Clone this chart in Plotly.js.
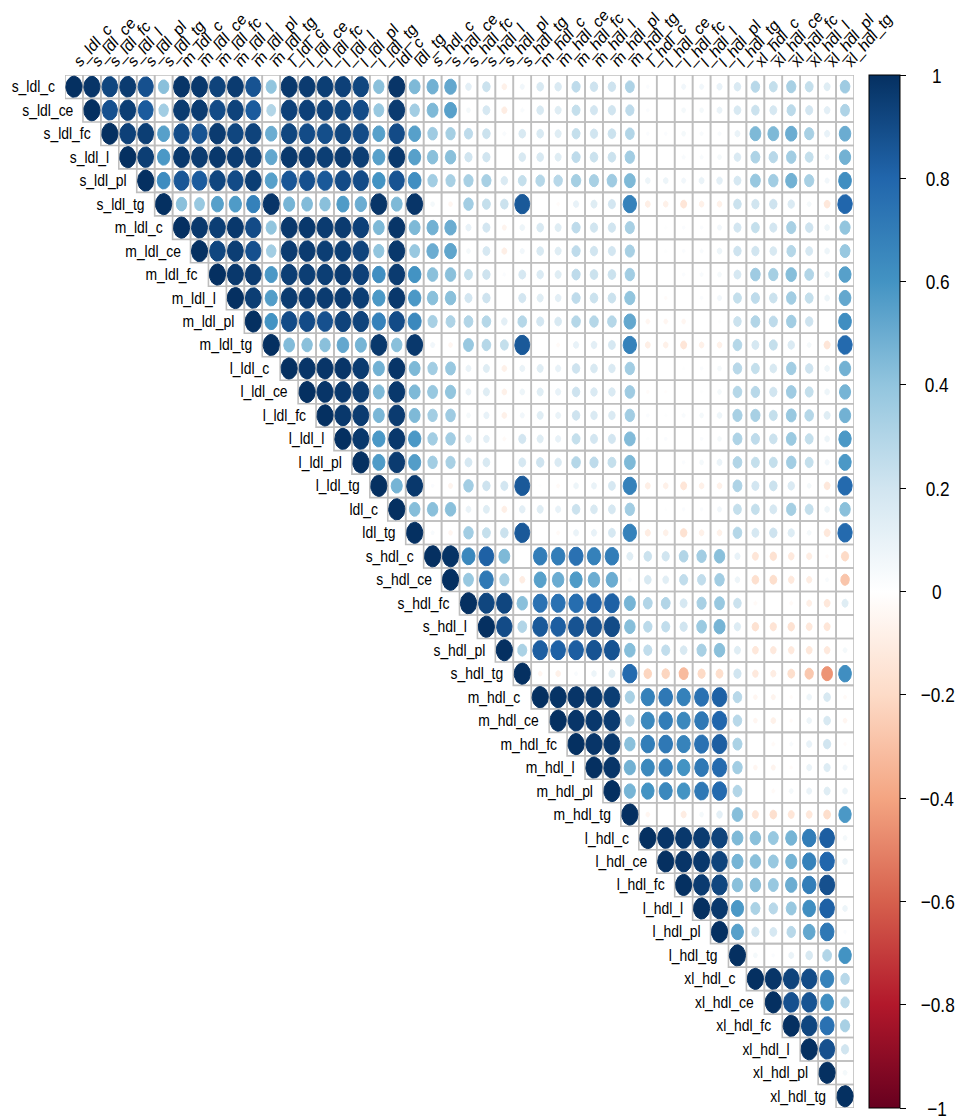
<!DOCTYPE html>
<html>
<head>
<meta charset="utf-8">
<script src="https://cdn.plot.ly/plotly-3.0.1.min.js"></script>
<style>html,body{margin:0;padding:0;background:#fff}</style>
</head>
<body>
<div id="chart" style="width:956px;height:1116px"></div>
<script>
const variables = ["s_ldl_c","s_ldl_ce","s_ldl_fc","s_ldl_l","s_ldl_pl","s_ldl_tg","m_ldl_c","m_ldl_ce","m_ldl_fc","m_ldl_l","m_ldl_pl","m_ldl_tg","l_ldl_c","l_ldl_ce","l_ldl_fc","l_ldl_l","l_ldl_pl","l_ldl_tg","ldl_c","ldl_tg","s_hdl_c","s_hdl_ce","s_hdl_fc","s_hdl_l","s_hdl_pl","s_hdl_tg","m_hdl_c","m_hdl_ce","m_hdl_fc","m_hdl_l","m_hdl_pl","m_hdl_tg","l_hdl_c","l_hdl_ce","l_hdl_fc","l_hdl_l","l_hdl_pl","l_hdl_tg","xl_hdl_c","xl_hdl_ce","xl_hdl_fc","xl_hdl_l","xl_hdl_pl","xl_hdl_tg"];

// Upper triangle of the correlation matrix; each row starts on the diagonal.
const row00 = [1,.98,.92,.96,.88,.42,.98,.97,.93,.96,.87,.4,.97,.96,.95,.94,.92,.42,.98,.45,.48,.52,.12,.22,-.08,.06,.17,.16,.26,.21,.21,.31,.02,0,.06,.06,.1,.16,.28,.24,.33,.24,.14,.36];
const row01 = [1,.88,.95,.84,.35,.96,.96,.9,.93,.84,.3,.94,.94,.93,.92,.9,.38,.96,.35,.45,.55,.05,.18,-.1,.03,.17,.14,.24,.19,.2,.26,.02,0,.05,.05,.09,.17,.22,.18,.27,.19,.12,.31];
const row02 = [1,.94,.95,.55,.9,.87,.96,.92,.93,.5,.92,.9,.89,.92,.9,.55,.9,.55,.36,.34,.26,.22,.03,.17,.17,.14,.24,.2,.22,.3,.02,.02,.05,.03,.03,.09,.45,.45,.5,.33,.1,.5];
const row03 = [1,.95,.58,.97,.96,.97,.96,.95,.52,.97,.96,.95,.96,.95,.55,.97,.55,.42,.42,.2,.2,0,.17,.17,.14,.26,.22,.22,.35,0,0,.03,.03,.05,.16,.31,.28,.35,.24,.06,.48];
const row04 = [1,.63,.86,.84,.92,.9,.95,.55,.86,.88,.85,.9,.9,.6,.87,.62,.35,.33,.33,.33,.16,.24,.29,.28,.34,.33,.36,.45,.08,.08,.06,.09,.12,.18,.38,.35,.48,.33,.06,.62];
const row05 = [1,.42,.38,.55,.57,.68,.98,.47,.44,.42,.57,.5,.98,.45,.98,.05,-.05,.35,.24,.22,.85,0,-.02,.1,.14,.19,.68,-.09,-.08,-.14,-.08,-.08,.22,.2,.21,.16,.05,-.13,.8];
const row06 = [1,.97,.95,.97,.9,.4,.97,.97,.96,.96,.94,.45,.98,.45,.48,.5,.1,.19,-.06,.08,.17,.14,.26,.2,.2,.33,0,.01,.02,.02,.06,.19,.24,.19,.33,.21,.08,.4];
const row07 = [1,.92,.95,.88,.35,.96,.96,.95,.95,.93,.4,.97,.38,.5,.53,.05,.18,-.09,.06,.17,.14,.26,.2,.19,.33,0,.01,.02,.03,.08,.21,.2,.17,.29,.18,.08,.38];
const row08 = [1,.97,.96,.58,.95,.95,.95,.96,.94,.62,.96,.6,.42,.42,.24,.21,.02,.18,.16,.14,.26,.22,.22,.35,0,0,.02,.03,.05,.18,.36,.34,.43,.3,.08,.55];
const row09 = [1,.95,.56,.96,.96,.96,.96,.95,.58,.97,.58,.42,.42,.19,.21,0,.19,.14,.12,.26,.22,.22,.4,0,-.02,0,.02,.06,.24,.26,.22,.35,.24,.08,.52];
const row10 = [1,.6,.9,.9,.88,.93,.93,.68,.9,.65,.33,.31,.3,.29,.12,.29,.19,.17,.29,.29,.29,.52,-.05,-.05,-.05,0,.01,.22,.3,.26,.35,.21,0,.62];
const row11 = [1,.44,.42,.42,.52,.47,.97,.42,.97,.06,-.05,.38,.29,.24,.85,0,-.03,.1,.12,.18,.68,-.09,-.08,-.14,-.08,-.08,.29,.18,.24,.16,.05,-.14,.78];
const row12 = [1,.98,.98,.98,.96,.48,.98,.45,.35,.38,.09,.14,-.08,.09,.14,.1,.21,.17,.16,.35,0,0,.01,.02,.05,.28,.24,.17,.35,.21,.08,.48];
const row13 = [1,.98,.97,.96,.45,.97,.45,.38,.4,.09,.14,-.08,.08,.14,.1,.21,.16,.16,.36,-.02,-.01,0,.01,.05,.29,.28,.2,.36,.24,.08,.47];
const row14 = [1,.97,.96,.46,.96,.45,.35,.36,.05,.1,-.08,.06,.14,.09,.21,.16,.16,.35,.02,.01,.03,.05,.08,.33,.33,.24,.38,.29,.14,.48];
const row15 = [1,.97,.58,.97,.58,.35,.35,.13,.12,-.03,.19,.14,.1,.24,.19,.19,.44,.01,.02,0,.02,.05,.31,.26,.22,.37,.24,.08,.58];
const row16 = [1,.57,.96,.56,.35,.33,.18,.17,0,.18,.21,.16,.29,.26,.24,.45,0,0,.02,.05,.09,.3,.24,.24,.35,.24,.06,.58];
const row17 = [1,.47,.97,.02,-.06,.35,.21,.19,.85,.01,-.03,.08,.09,.18,.68,-.09,-.08,-.14,-.08,-.08,.31,.19,.22,.16,.05,-.13,.78];
const row18 = [1,.43,.42,.42,.09,.14,-.09,.12,.14,.1,.22,.17,.18,.35,0,.01,.02,.02,.06,.24,.24,.18,.34,.24,.08,.42];
const row19 = [1,.03,-.05,.35,.24,.22,.85,0,-.03,.09,.1,.18,.68,-.1,-.08,-.16,-.08,-.08,.29,.18,.21,.15,.05,-.13,.78];
const row20 = [1,.99,.65,.82,.45,0,.7,.7,.75,.68,.7,.14,.22,.2,.3,.35,.42,.1,-.14,-.16,-.12,-.1,-.02,-.2];
const row21 = [1,.38,.72,.33,-.1,.55,.5,.57,.5,.5,.03,.17,.13,.25,.25,.35,.08,-.17,-.18,-.12,-.1,.03,-.28];
const row22 = [1,.92,.92,.42,.75,.75,.77,.82,.82,.47,.3,.3,.18,.33,.38,.22,-.03,0,-.03,-.09,-.13,.14];
const row23 = [1,.9,.3,.85,.83,.87,.88,.9,.43,.27,.25,.2,.37,.47,.15,-.16,-.15,-.16,-.13,-.14,0];
const row24 = [1,.32,.83,.82,.83,.87,.87,.43,.25,.25,.17,.33,.42,.14,-.13,-.12,-.12,-.13,-.12,.05];
const row25 = [1,-.05,-.08,.03,.08,.14,.78,-.22,-.22,-.32,-.2,-.18,.2,-.12,-.1,-.18,-.27,-.45,.62];
const row26 = [1,.99,.98,.97,.95,.33,.68,.72,.68,.75,.82,.28,-.05,-.06,-.02,.08,.17,-.03];
const row27 = [1,.98,.97,.96,.28,.65,.7,.65,.72,.8,.28,-.05,-.08,-.02,.08,.17,-.05];
const row28 = [1,.98,.97,.42,.7,.72,.67,.75,.83,.32,0,-.03,.03,.1,.2,-.02];
const row29 = [1,.98,.48,.65,.68,.6,.72,.78,.35,-.05,-.06,-.02,.09,.15,.06];
const row30 = [1,.47,.6,.65,.6,.72,.78,.3,0,-.03,.05,.09,.14,.08];
const row31 = [1,-.05,0,-.1,.05,.12,.43,-.14,-.17,-.14,-.13,-.18,.58];
const row32 = [1,.98,.97,.96,.93,.45,.42,.38,.47,.7,.83,.05];
const row33 = [1,.98,.97,.93,.47,.42,.38,.47,.68,.8,.08];
const row34 = [1,.96,.92,.42,.42,.38,.5,.7,.88,0];
const row35 = [1,.97,.58,.32,.28,.38,.62,.82,.08];
const row36 = [1,.55,.2,.18,.28,.52,.72,.02];
const row37 = [1,.05,.02,.09,.17,.3,.6];
const row38 = [1,.98,.93,.9,.68,.28];
const row39 = [1,.88,.87,.62,.27];
const row40 = [1,.92,.75,.33];
const row41 = [1,.88,.2];
const row42 = [1,.05];
const row43 = [1];

const upperRows = [row00,row01,row02,row03,row04,row05,row06,row07,row08,row09,row10,row11,row12,row13,row14,row15,row16,row17,row18,row19,row20,row21,row22,row23,row24,row25,row26,row27,row28,row29,row30,row31,row32,row33,row34,row35,row36,row37,row38,row39,row40,row41,row42,row43];

const colorbarTicks = [1,.8,.6,.4,.2,0,-.2,-.4,-.6,-.8,-1];
const paletteHex = ["#67001F","#B2182B","#D6604D","#F4A582","#FDDBC7","#FFFFFF","#D1E5F0","#92C5DE","#4393C3","#2166AC","#053061"];

const rgb = h => [1,3,5].map(i => parseInt(h.substr(i,2),16));
function colorOf(v){
  const t = (Math.max(-1,Math.min(1,v))+1)/2*(paletteHex.length-1);
  const k = Math.min(Math.floor(t),paletteHex.length-2), f = t-k;
  const a = rgb(paletteHex[k]), b = rgb(paletteHex[k+1]);
  return 'rgb('+a.map((c,i)=>Math.round(c+(b[i]-c)*f)).join(',')+')';
}
const colorscale = paletteHex.map((c,i)=>[i/(paletteHex.length-1),c]);

const traces = [];

// cell borders
const gx=[], gy=[];
upperRows.forEach((row,i)=>row.forEach((_,n)=>{
  const j=i+n;
  gx.push(j-.5,j+.5,j+.5,j-.5,j-.5,null);
  gy.push(i-.5,i-.5,i+.5,i+.5,i-.5,null);
}));
traces.push({type:'scatter',mode:'lines',x:gx,y:gy,line:{color:'#bebebe',width:1.6},hoverinfo:'skip',showlegend:false});

// circles of corrplot: area proportional to |r|, in cell units
const groups = new Map();
upperRows.forEach((row,i)=>row.forEach((v,n)=>{
  const j=i+n;
  if(Math.abs(v)<.002) return;
  if(!groups.has(v)) groups.set(v,{x:[],y:[]});
  const g=groups.get(v), rad=.45*Math.sqrt(Math.abs(v));
  for(let a=0;a<=40;a++){
    const th=a/40*2*Math.PI;
    g.x.push(j+rad*Math.cos(th));
    g.y.push(i+rad*Math.sin(th));
  }
  g.x.push(null); g.y.push(null);
}));
groups.forEach((g,v)=>traces.push({type:'scatter',mode:'lines',x:g.x,y:g.y,fill:'toself',fillcolor:colorOf(v),line:{width:1,color:colorOf(v)},hoverinfo:'skip',showlegend:false}));

// colour legend
traces.push({type:'scatter',mode:'markers',x:[0,0],y:[0,0],hoverinfo:'skip',showlegend:false,
  marker:{size:1,opacity:0,color:[-1,1],cmin:-1,cmax:1,colorscale:colorscale,showscale:true,
    colorbar:{x:(869-65)/789,xanchor:'left',xpad:0,y:.5,yanchor:'middle',ypad:0,len:1,lenmode:'fraction',thickness:31,thicknessmode:'pixels',
      outlinewidth:1,outlinecolor:'#000',ticks:'outside',ticklen:6,tickwidth:1,tickcolor:'#000',tickvals:colorbarTicks,showticklabels:false}}});

const rowLabelNotes = variables.map((name,i)=>({xref:'x',yref:'y',x:i-.5,y:i,xanchor:'right',yanchor:'middle',xshift:-8,showarrow:false,
  text:name,font:{family:'"Liberation Sans",Arial,sans-serif',size:17,color:'#000'}}));
const barLabelNotes = colorbarTicks.map(v=>({xref:'paper',yref:'paper',x:(937-65)/789,y:(v+1)/2,xanchor:'center',yanchor:'middle',showarrow:false,
  text:(v<0?'\u2212':'')+String(Math.abs(v)),font:{family:'"Liberation Sans",Arial,sans-serif',size:21,color:'#000'}}));

const layout = {
  width:956,height:1116,margin:{l:65,r:102,t:75,b:8},paper_bgcolor:'#fff',plot_bgcolor:'#fff',showlegend:false,
  xaxis:{range:[-.5,43.5],side:'top',tickmode:'array',tickvals:variables.map((_,i)=>i),ticktext:variables,tickangle:-45,ticks:'',showgrid:false,zeroline:false,showline:false,automargin:false,
    tickfont:{family:'"Liberation Sans",Arial,sans-serif',size:17,color:'#000'}},
  yaxis:{range:[43.5,-.5],visible:false,showgrid:false,zeroline:false},
  annotations:rowLabelNotes.concat(barLabelNotes)
};

// The reference text is horizontally condensed: squeeze the real text in place.
function squeeze(el,ax,ay,sx){
  const old=el.getAttribute('transform')||'';
  el.setAttribute('transform','translate('+ax+','+ay+') scale('+sx+',1) translate('+(-ax)+','+(-ay)+') '+old);
}
Plotly.newPlot('chart',traces,layout,{displayModeBar:false,staticPlot:true}).then(gd=>{
  gd.querySelectorAll('.annotation-text').forEach((t,idx)=>{
    const b=t.getBBox();
    if(idx<variables.length) squeeze(t,b.x+b.width,b.y,.82);
    else squeeze(t,b.x+b.width/2,b.y,.82);
  });
  gd.querySelectorAll('.xtick text').forEach(t=>{
    const x=parseFloat(t.getAttribute('x'))||0, y=parseFloat(t.getAttribute('y'))||0;
    const tl=t.transform.baseVal.consolidate();
    const m=tl?tl.matrix:{a:1,b:0,c:0,d:1,e:0,f:0};
    squeeze(t,m.a*x+m.c*y+m.e,m.b*x+m.d*y+m.f,.87);
  });
});
</script>
</body>
</html>
